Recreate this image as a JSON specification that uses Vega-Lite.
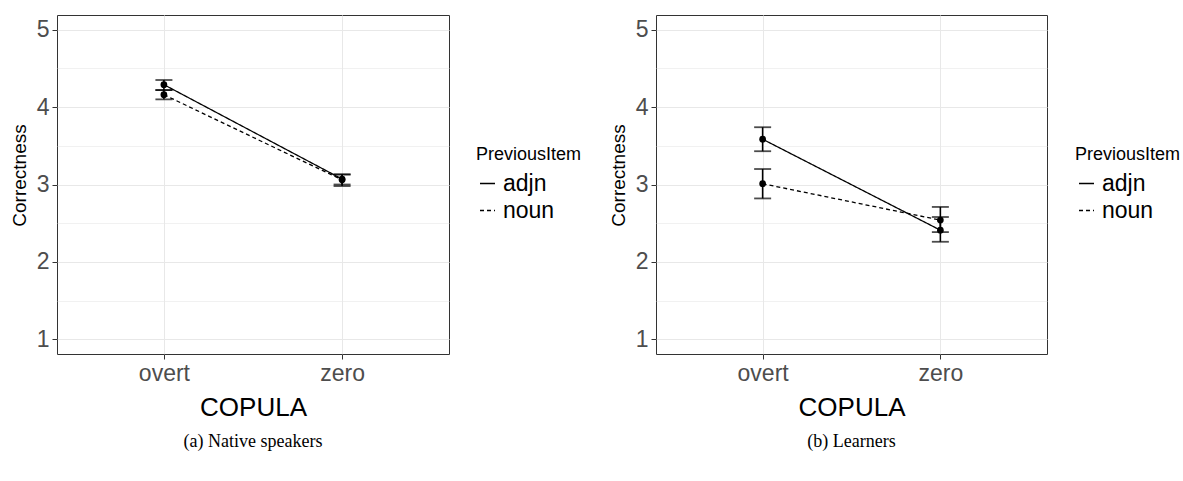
{
  "$schema": "https://vega.github.io/schema/vega-lite/v6.json",
  "background": "white",
  "padding": {"left": 9, "top": 14, "right": 0, "bottom": 0},
  "datasets": {
    "stats": [
      {"panel": "a", "COPULA": "overt", "PreviousItem": "adjn", "mean": 4.29, "lo": 4.22, "hi": 4.35},
      {"panel": "a", "COPULA": "overt", "PreviousItem": "noun", "mean": 4.16, "lo": 4.10, "hi": 4.22},
      {"panel": "a", "COPULA": "zero", "PreviousItem": "adjn", "mean": 3.07, "lo": 3.00, "hi": 3.13},
      {"panel": "a", "COPULA": "zero", "PreviousItem": "noun", "mean": 3.06, "lo": 2.98, "hi": 3.13},
      {"panel": "b", "COPULA": "overt", "PreviousItem": "adjn", "mean": 3.585, "lo": 3.43, "hi": 3.74},
      {"panel": "b", "COPULA": "overt", "PreviousItem": "noun", "mean": 3.01, "lo": 2.82, "hi": 3.20},
      {"panel": "b", "COPULA": "zero", "PreviousItem": "adjn", "mean": 2.41, "lo": 2.26, "hi": 2.58},
      {"panel": "b", "COPULA": "zero", "PreviousItem": "noun", "mean": 2.54, "lo": 2.385, "hi": 2.71}
    ]
  },
  "config": {
    "font": "Liberation Sans",
    "view": {"stroke": "#333333", "strokeWidth": 1},
    "axis": {
      "labelFont": "Liberation Sans",
      "titleFont": "Liberation Sans",
      "labelColor": "#4d4d4d",
      "tickColor": "#333333",
      "domain": false,
      "grid": true,
      "gridColor": "#e8e8e8",
      "titleColor": "black",
      "titleFontWeight": "normal"
    },
    "legend": {
      "titleFont": "Liberation Sans",
      "labelFont": "Liberation Sans",
      "titleFontSize": 18,
      "titleFontWeight": "normal",
      "titleColor": "black",
      "labelFontSize": 23,
      "labelColor": "black",
      "symbolType": "stroke",
      "symbolStrokeColor": "black",
      "symbolStrokeWidth": 1.3,
      "symbolSize": 225,
      "rowPadding": 3,
      "titlePadding": 8
    }
  },
  "resolve": {
    "scale": {"x": "independent", "y": "independent", "strokeDash": "independent"},
    "axis": {"x": "independent", "y": "independent"},
    "legend": {"strokeDash": "independent"}
  },
  "spacing": 25,
  "hconcat": [
    {
      "width": 392,
      "height": 339,
      "data": {"name": "stats"},
      "transform": [{"filter": "datum.panel === 'a'"}],
      "title": {"text": "(a) Native speakers", "orient": "bottom", "font": "Liberation Serif", "fontSize": 18, "fontWeight": "normal", "color": "black", "frame": "group", "anchor": "middle", "offset": 13},
      "encoding": {
        "x": {
          "field": "COPULA", "type": "nominal",
          "scale": {"type": "point", "padding": 0.6},
          "axis": {"title": "COPULA", "titleFontSize": 26, "labelFontSize": 23, "labelAngle": 0, "tickSize": 5, "labelPadding": 3, "titlePadding": 9}
        }
      },
      "layer": [
        {
          "mark": {"type": "line", "color": "black", "strokeWidth": 1.3},
          "encoding": {
            "y": {"field": "mean", "type": "quantitative", "scale": {"domain": [0.81, 5.19], "nice": false, "zero": false},
              "axis": {"title": "Correctness", "titleFontSize": 19, "titleY": 160, "labelFontSize": 23, "values": [1, 1.5, 2, 2.5, 3, 3.5, 4, 4.5, 5],
                "labelExpr": "datum.value % 1 === 0 ? format(datum.value, 'd') : ''",
                "tickOpacity": {"condition": {"test": "datum.value % 1 === 0", "value": 1}, "value": 0},
                "gridWidth": {"condition": {"test": "datum.value % 1 === 0", "value": 1.2}, "value": 0.6},
                "tickSize": 5, "labelPadding": 3, "titlePadding": 7}},
            "strokeDash": {"field": "PreviousItem", "type": "nominal", "scale": {"domain": ["adjn", "noun"], "range": [[1, 0], [4, 3]]},
              "legend": {"title": "PreviousItem", "orient": "none", "legendX": 419, "legendY": 131}},
            "detail": {"field": "PreviousItem"}
          }
        },
        {
          "mark": {"type": "rule", "color": "black", "strokeWidth": 1.6},
          "encoding": {"y": {"field": "lo", "type": "quantitative"}, "y2": {"field": "hi"}}
        },
        {
          "mark": {"type": "tick", "color": "black", "size": 17, "thickness": 1.8},
          "encoding": {"y": {"field": "lo", "type": "quantitative"}}
        },
        {
          "mark": {"type": "tick", "color": "black", "size": 17, "thickness": 1.8},
          "encoding": {"y": {"field": "hi", "type": "quantitative"}}
        },
        {
          "mark": {"type": "point", "filled": true, "color": "black", "opacity": 1, "size": 45},
          "encoding": {"y": {"field": "mean", "type": "quantitative"}}
        }
      ]
    },
    {
      "width": 391,
      "height": 339,
      "data": {"name": "stats"},
      "transform": [{"filter": "datum.panel === 'b'"}],
      "title": {"text": "(b) Learners", "orient": "bottom", "font": "Liberation Serif", "fontSize": 18, "fontWeight": "normal", "color": "black", "frame": "group", "anchor": "middle", "offset": 13},
      "encoding": {
        "x": {
          "field": "COPULA", "type": "nominal",
          "scale": {"type": "point", "padding": 0.6},
          "axis": {"title": "COPULA", "titleFontSize": 26, "labelFontSize": 23, "labelAngle": 0, "tickSize": 5, "labelPadding": 3, "titlePadding": 9}
        }
      },
      "layer": [
        {
          "mark": {"type": "line", "color": "black", "strokeWidth": 1.3},
          "encoding": {
            "y": {"field": "mean", "type": "quantitative", "scale": {"domain": [0.81, 5.19], "nice": false, "zero": false},
              "axis": {"title": "Correctness", "titleFontSize": 19, "titleY": 160, "labelFontSize": 23, "values": [1, 1.5, 2, 2.5, 3, 3.5, 4, 4.5, 5],
                "labelExpr": "datum.value % 1 === 0 ? format(datum.value, 'd') : ''",
                "tickOpacity": {"condition": {"test": "datum.value % 1 === 0", "value": 1}, "value": 0},
                "gridWidth": {"condition": {"test": "datum.value % 1 === 0", "value": 1.2}, "value": 0.6},
                "tickSize": 5, "labelPadding": 3, "titlePadding": 7}},
            "strokeDash": {"field": "PreviousItem", "type": "nominal", "scale": {"domain": ["adjn", "noun"], "range": [[1, 0], [4, 3]]},
              "legend": {"title": "PreviousItem", "orient": "none", "legendX": 419, "legendY": 131}},
            "detail": {"field": "PreviousItem"}
          }
        },
        {
          "mark": {"type": "rule", "color": "black", "strokeWidth": 1.6},
          "encoding": {"y": {"field": "lo", "type": "quantitative"}, "y2": {"field": "hi"}}
        },
        {
          "mark": {"type": "tick", "color": "black", "size": 17, "thickness": 1.8},
          "encoding": {"y": {"field": "lo", "type": "quantitative"}}
        },
        {
          "mark": {"type": "tick", "color": "black", "size": 17, "thickness": 1.8},
          "encoding": {"y": {"field": "hi", "type": "quantitative"}}
        },
        {
          "mark": {"type": "point", "filled": true, "color": "black", "opacity": 1, "size": 45},
          "encoding": {"y": {"field": "mean", "type": "quantitative"}}
        }
      ]
    }
  ]
}
